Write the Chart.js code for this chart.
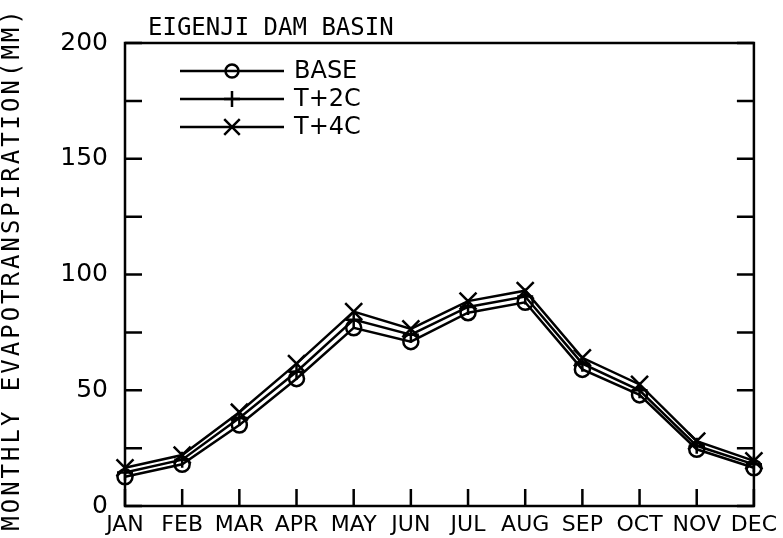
<!DOCTYPE html>
<html>
<head>
<meta charset="utf-8">
<script src="https://cdn.jsdelivr.net/npm/chart.js@4"></script>
<style>
  html, body { margin: 0; padding: 0; background: #fff; }
  #myChart { display: block; }
</style>
</head>
<body>
<canvas id="myChart" width="783" height="538"></canvas>
<script>
const months = ["JAN", "FEB", "MAR", "APR", "MAY", "JUN", "JUL", "AUG", "SEP", "OCT", "NOV", "DEC"];
const seriesNames = ["BASE", "T+2C", "T+4C"];
const baseEt = [12.6, 18, 35, 55, 77, 71, 83.5, 88, 59, 48, 24.5, 16.5];
const t2Et = [14.5, 20, 38, 58, 80.5, 74, 86, 90.5, 61.5, 50, 26, 18];
const t4Et = [16.5, 22, 40.5, 61.5, 84, 76.5, 88.5, 93, 64, 52.5, 28, 19.5];
const yLabelTicks = [0, 50, 100, 150, 200];

const chartTitle = "EIGENJI DAM BASIN";
const yTitle = "MONTHLY EVAPOTRANSPIRATION(MM)";

const myChart = document.getElementById("myChart");

// frame, inward ticks, titles and the legend
const plotterBits = {
  id: "plotterBits",
  afterDatasetsDraw(chart) {
    const ctx = chart.ctx;
    const a = chart.chartArea;
    const xs = chart.scales.x;
    const ys = chart.scales.y;
    const tl = 17;
    ctx.save();
    ctx.strokeStyle = "#000";
    ctx.lineWidth = 2.5;
    ctx.strokeRect(a.left, a.top, a.right - a.left, a.bottom - a.top);
    ctx.beginPath();
    ys.ticks.forEach((t) => {
      const y = ys.getPixelForValue(t.value);
      ctx.moveTo(a.left, y); ctx.lineTo(a.left + tl, y);
      ctx.moveTo(a.right, y); ctx.lineTo(a.right - tl, y);
    });
    months.forEach((m, i) => {
      const x = xs.getPixelForValue(i);
      ctx.moveTo(x, a.bottom); ctx.lineTo(x, a.bottom - tl);
    });
    ctx.stroke();

    // title
    ctx.fillStyle = "#000";
    ctx.font = "24px 'DejaVu Sans Mono'";
    ctx.textAlign = "left";
    ctx.textBaseline = "alphabetic";
    ctx.fillText(chartTitle, 148, 35);

    // y title
    ctx.save();
    ctx.translate(13, 269);
    ctx.rotate(-Math.PI / 2);
    ctx.font = "24px 'DejaVu Sans Mono'";
    ctx.letterSpacing = "3px";
    ctx.textAlign = "center";
    ctx.textBaseline = "middle";
    ctx.fillText(yTitle, 0, 0);
    ctx.restore();

    // legend
    ctx.font = "24px 'DejaVu Sans'";
    ctx.textBaseline = "middle";
    chart.data.datasets.forEach((ds, i) => {
      const y = 71 + i * 28;
      ctx.lineWidth = 2.5;
      ctx.beginPath();
      ctx.moveTo(180, y); ctx.lineTo(284, y);
      ctx.stroke();
      ctx.fillStyle = "rgba(0,0,0,0)";
      Chart.helpers.drawPoint(ctx, {
        pointStyle: ds.pointStyle,
        radius: ds.pointStyle === "circle" ? 6.5 : (ds.pointStyle === "cross" ? 8 : 11),
        rotation: 0,
        borderWidth: 2.5
      }, 232, y);
      ctx.fillStyle = "#000";
      ctx.fillText(ds.label, 294, y + 1);
    });
    ctx.restore();
  }
};

const pintarGrafica = () => {
  const mk = (label, data, style, r) => ({
    label: label,
    data: data,
    borderColor: "#000",
    backgroundColor: "rgba(0,0,0,0)",
    borderWidth: 2.5,
    pointStyle: style,
    pointRadius: r,
    pointBorderWidth: 2.5,
    pointBorderColor: "#000",
    pointBackgroundColor: "rgba(0,0,0,0)",
    tension: 0,
    clip: false
  });
  new Chart(myChart, {
    type: "line",
    data: {
      labels: months,
      datasets: [
        mk(seriesNames[0], baseEt, "circle", 7.5),
        mk(seriesNames[1], t2Et, "cross", 8),
        mk(seriesNames[2], t4Et, "crossRot", 12)
      ]
    },
    plugins: [plotterBits],
    options: {
      responsive: false,
      animation: false,
      layout: { padding: { top: 43, right: 22, left: 0, bottom: 0 } },
      plugins: {
        legend: { display: false },
        title: { display: false },
        tooltip: { enabled: false }
      },
      scales: {
        x: {
          type: "category",
          offset: false,
          grid: { display: false, drawTicks: false },
          border: { display: false },
          ticks: {
            color: "#000",
            font: { family: "DejaVu Sans", size: 22 },
            padding: 6,
            autoSkip: false,
            maxRotation: 0
          },
          afterFit: (s) => { s.height = 31; }
        },
        y: {
          min: 0,
          max: 200,
          grid: { display: false, drawTicks: false },
          border: { display: false },
          ticks: {
            stepSize: 25,
            color: "#000",
            font: { family: "DejaVu Sans", size: 25 },
            padding: 17,
            callback: (v) => (yLabelTicks.includes(v) ? v : "")
          },
          afterFit: (s) => { s.width = 125; }
        }
      }
    }
  });
};

window.addEventListener("load", pintarGrafica);
</script>
</body>
</html>
